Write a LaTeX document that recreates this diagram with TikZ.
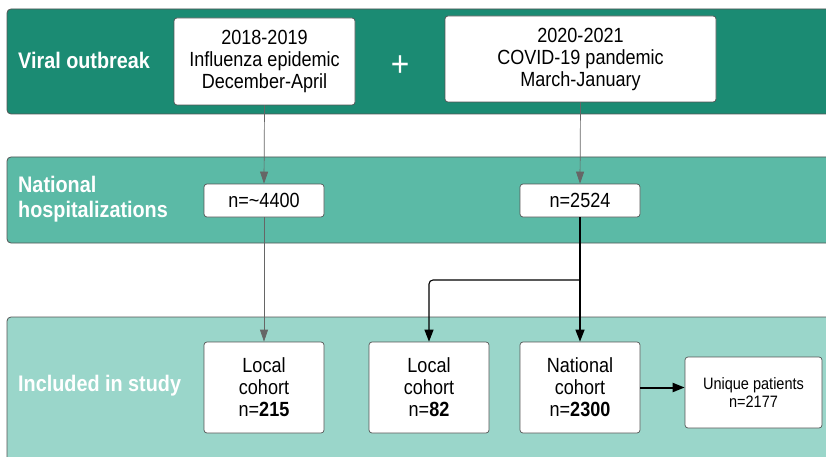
\documentclass[tikz,border=0pt]{standalone}
\usepackage{fontspec}
\setmainfont{Liberation Sans}[FakeStretch=0.88]
\usetikzlibrary{arrows.meta}
\definecolor{bandA}{HTML}{1B8B73}
\definecolor{bandB}{HTML}{5BBAA6}
\definecolor{bandC}{HTML}{9AD6CA}
\definecolor{edgegray}{HTML}{555555}
\tikzset{
  band/.style={draw=edgegray, line width=0.8pt, rounded corners=4pt},
  box/.style={draw=edgegray, line width=0.7pt, fill=white, rounded corners=3pt, align=center, inner sep=0pt, font=\fontsize{20.5}{22}\selectfont},
  bandlabel/.style={anchor=west, text=white, font=\fontsize{22.5}{25}\selectfont\bfseries, align=left, inner sep=0pt},
  thinarrow/.style={draw=gray!80!black, line width=0.7pt, -{Triangle[length=12pt,width=8pt]}},
  blackarrow/.style={draw=black, line width=1.3pt, -{Triangle[length=12pt,width=9pt]}},
}
\begin{document}
\begin{tikzpicture}[x=1pt,y=-1pt]
\useasboundingbox (0,0) rectangle (826,457);
\clip (0,0) rectangle (826,457);
\fill[white] (0,0) rectangle (826,457);
% bands
\draw[band, fill=bandA] (7,9) rectangle (850,114);
\draw[band, fill=bandB] (7,157) rectangle (850,243);
\draw[band, fill=bandC] (7,317) rectangle (850,480);
% band labels
\node[bandlabel] (l1) at (18,60) {Viral outbreak};
\node[bandlabel] (l2) at (18,199) {National\\hospitalizations};
\node[bandlabel] (l3) at (18,386) {Included in study};
\node[text=white, font=\fontsize{36}{36}\selectfont, inner sep=0pt] (plus) at (400,66) {+};
% boxes
\node[box, minimum width=181pt, minimum height=87pt] (A) at (264.5,61.5) {2018-2019\\Influenza epidemic\\December-April};
\node[box, minimum width=271pt, minimum height=86pt] (B) at (580.5,59) {2020-2021\\COVID-19 pandemic\\March-January};
\node[box, minimum width=120pt, minimum height=33pt] (C) at (264,200.5) {n=\textasciitilde 4400};
\node[box, minimum width=120pt, minimum height=33pt] (D) at (580,200.5) {n=2524};
\node[box, minimum width=120pt, minimum height=91pt] (E) at (264,387.5) {Local\\cohort\\n=\textbf{215}};
\node[box, minimum width=120pt, minimum height=91pt] (F) at (429,387.5) {Local\\cohort\\n=\textbf{82}};
\node[box, minimum width=120pt, minimum height=91pt] (G) at (580,387.5) {National\\cohort\\n=\textbf{2300}};
\node[box, minimum width=137pt, minimum height=71pt, font=\fontsize{16.5}{18}\selectfont] (H) at (753.5,392.5) {Unique patients\\n=2177};
% connectors
\draw[thinarrow] (A.south) -- (C.north);
\draw[thinarrow] (B.south) -- (D.north);
\draw[thinarrow] (C.south) -- (E.north);
\coordinate (j) at (580,280);
\draw[blackarrow] (D.south) -- (G.north);
\draw[blackarrow, rounded corners=4pt, line width=1.1pt] (j) -| (F.north);
\draw[blackarrow, line width=2pt] (G.east) -- (H.west |- G.east);
\end{tikzpicture}
\end{document}
